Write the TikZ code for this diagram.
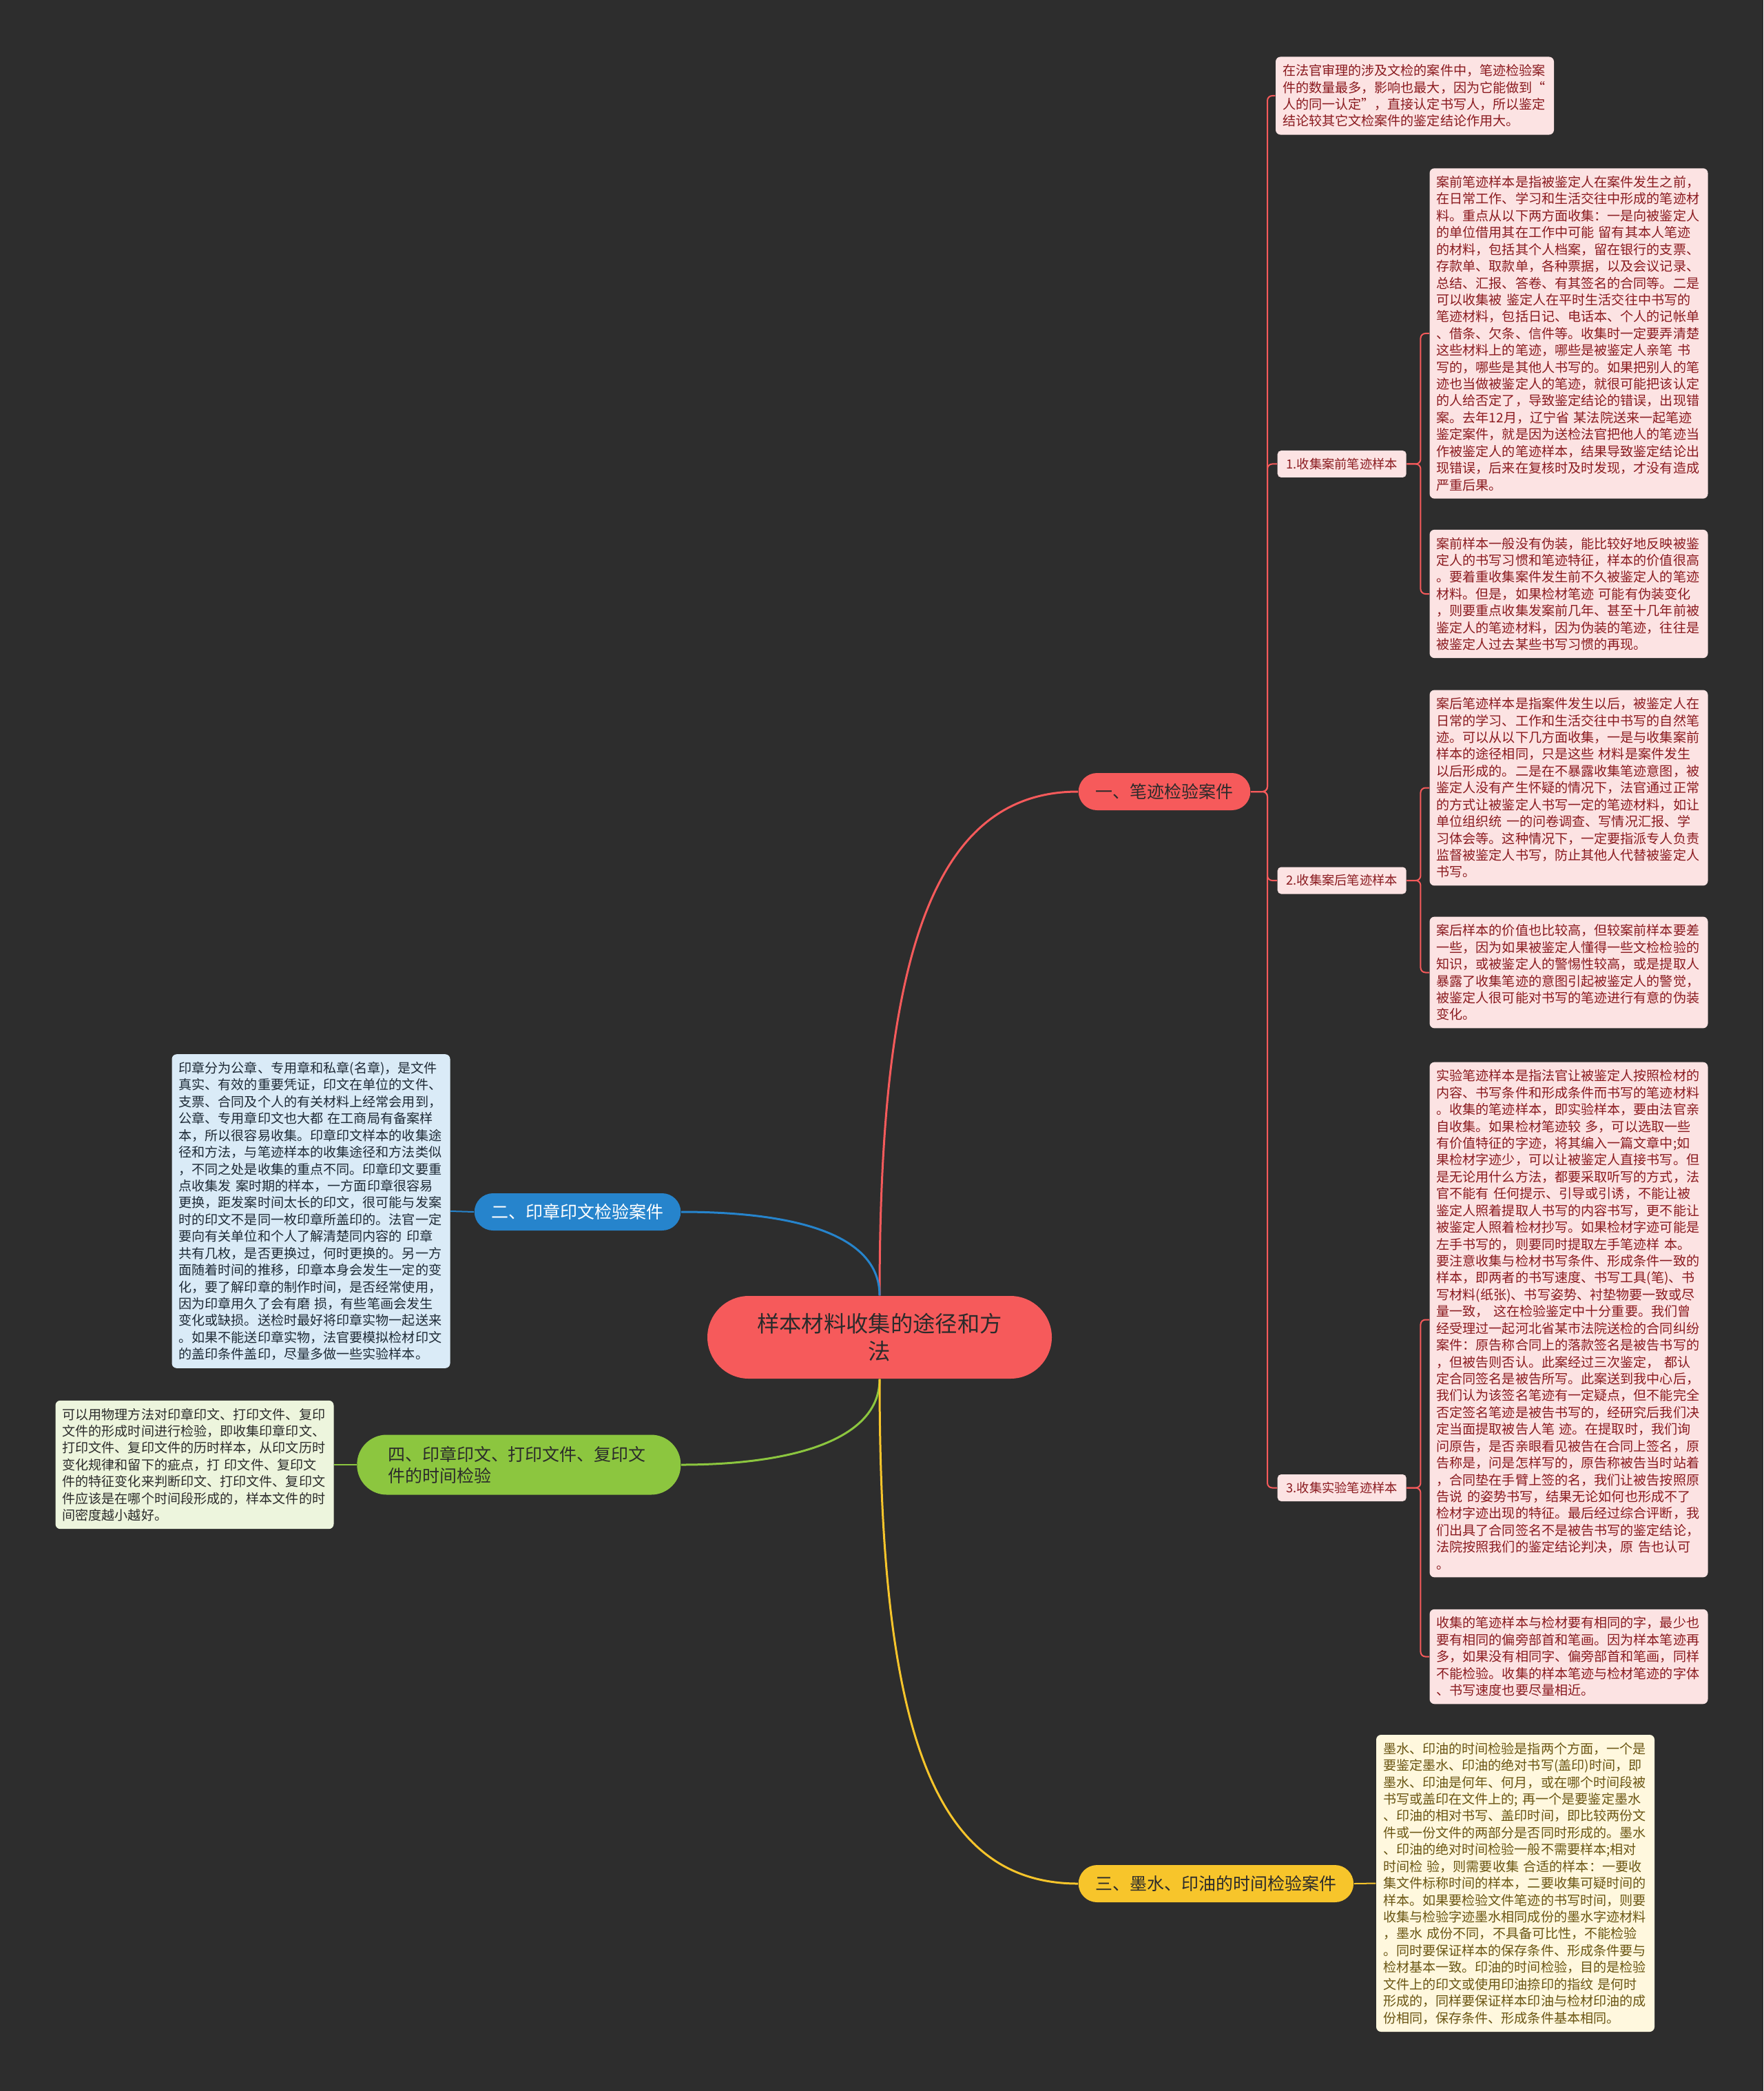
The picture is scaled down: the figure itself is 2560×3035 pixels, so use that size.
\documentclass[tikz,border=0pt]{standalone}
\usepackage{fontspec}
\setmainfont{Noto Sans CJK SC}
\usepackage{tikz}
\usetikzlibrary{calc}

\definecolor{bgdark}{HTML}{2D2D2D}
\definecolor{mapred}{HTML}{F65A5B}
\definecolor{leafpink}{HTML}{FCE3E3}
\definecolor{leafred}{HTML}{8A1A1F}
\definecolor{mapblue}{HTML}{2684CC}
\definecolor{leafblue}{HTML}{DAEBF7}
\definecolor{bluetext}{HTML}{1E2A36}
\definecolor{mapgreen}{HTML}{8CC63F}
\definecolor{leafgreen}{HTML}{EDF5DD}
\definecolor{mapyellow}{HTML}{F7C52B}
\definecolor{leafcream}{HTML}{FFF8DE}
\definecolor{leafolive}{HTML}{6A5512}
\definecolor{darktext}{HTML}{2B2B2B}

\begin{document}
\begin{tikzpicture}[x=0.1mm, y=-0.1mm,
  leaf/.style={rounded corners=2pt, align=left, text width=38.4mm, inner xsep=1mm, inner ysep=1.1mm,
    font=\fontsize{5.43}{6.95}\selectfont},
  sublabel/.style={rounded corners=1.5pt, fill=leafpink, text=leafred, inner xsep=0.8mm, inner ysep=0pt,
    minimum height=3.9mm, minimum width=18.7mm, font=\fontsize{5.2}{6}\selectfont},
  topic/.style={rounded corners=2.7mm, minimum height=5.4mm, inner xsep=2.5mm, inner ysep=0pt,
    font=\fontsize{7.1}{8.8}\selectfont},
  link/.style={line width=0.3mm},
  twig/.style={line width=0.2mm, rounded corners=2pt}]
  % fond
  \fill[bgdark] (0,0) rectangle (2560,3035);
  \useasboundingbox (0,0) rectangle (2560,3035);
  % thème central
  \node[fill=mapred, text=darktext, rounded corners=6mm, minimum width=50mm, minimum height=12mm,
    align=center, font=\fontsize{9.2}{11.5}\selectfont] (root) at (1277,1941)
    {样本材料收集的途径和方\\法};
  % branches
  \node[topic, fill=mapred, text=darktext, anchor=west] (b1) at (1565,1149) {一、笔迹检验案件};
  \node[topic, fill=mapblue, text=white, anchor=east] (b2) at (989,1759) {二、印章印文检验案件};
  \node[topic, fill=mapyellow, text=darktext, anchor=west] (b3) at (1565,2734) {三、墨水、印油的时间检验案件};
  \node[topic, fill=mapgreen, text=darktext, anchor=east, rounded corners=4.3mm, minimum height=8.7mm,
    align=left, text width=38mm, inner xsep=4.5mm] (b4) at (989,2126)
    {四、印章印文、打印文件、复印文\\件的时间检验};
  % sous-thèmes
  \node[sublabel, anchor=west] (sa) at (1854,673.5) {1.收集案前笔迹样本};
  \node[sublabel, anchor=west] (sb) at (1854,1278) {2.收集案后笔迹样本};
  \node[sublabel, anchor=west] (sc) at (1854,2159.5) {3.收集实验笔迹样本};
  % notes : branche 1
  \node[leaf, fill=leafpink, text=leafred] (n0) at (2054,139) {%
在法官审理的涉及文检的案件中，笔迹检验案\\
件的数量最多，影响也最大，因为它能做到“\\
人的同一认定”，直接认定书写人，所以鉴定\\
结论较其它文检案件的鉴定结论作用大。};
  \node[leaf, fill=leafpink, text=leafred] (na1) at (2277.5,484) {%
案前笔迹样本是指被鉴定人在案件发生之前，\\
在日常工作、学习和生活交往中形成的笔迹材\\
料。重点从以下两方面收集：一是向被鉴定人\\
的单位借用其在工作中可能 留有其本人笔迹\\
的材料，包括其个人档案，留在银行的支票、\\
存款单、取款单，各种票据，以及会议记录、\\
总结、汇报、答卷、有其签名的合同等。二是\\
可以收集被 鉴定人在平时生活交往中书写的\\
笔迹材料，包括日记、电话本、个人的记帐单\\
、借条、欠条、信件等。收集时一定要弄清楚\\
这些材料上的笔迹，哪些是被鉴定人亲笔 书\\
写的，哪些是其他人书写的。如果把别人的笔\\
迹也当做被鉴定人的笔迹，就很可能把该认定\\
的人给否定了，导致鉴定结论的错误，出现错\\
案。去年12月，辽宁省 某法院送来一起笔迹\\
鉴定案件，就是因为送检法官把他人的笔迹当\\
作被鉴定人的笔迹样本，结果导致鉴定结论出\\
现错误，后来在复核时及时发现，才没有造成\\
严重后果。};
  \node[leaf, fill=leafpink, text=leafred] (na2) at (2277.5,862) {%
案前样本一般没有伪装，能比较好地反映被鉴\\
定人的书写习惯和笔迹特征，样本的价值很高\\
。要着重收集案件发生前不久被鉴定人的笔迹\\
材料。但是，如果检材笔迹 可能有伪装变化\\
，则要重点收集发案前几年、甚至十几年前被\\
鉴定人的笔迹材料，因为伪装的笔迹，往往是\\
被鉴定人过去某些书写习惯的再现。};
  \node[leaf, fill=leafpink, text=leafred] (nb1) at (2277.5,1143.5) {%
案后笔迹样本是指案件发生以后，被鉴定人在\\
日常的学习、工作和生活交往中书写的自然笔\\
迹。可以从以下几方面收集，一是与收集案前\\
样本的途径相同，只是这些 材料是案件发生\\
以后形成的。二是在不暴露收集笔迹意图，被\\
鉴定人没有产生怀疑的情况下，法官通过正常\\
的方式让被鉴定人书写一定的笔迹材料，如让\\
单位组织统 一的问卷调查、写情况汇报、学\\
习体会等。这种情况下，一定要指派专人负责\\
监督被鉴定人书写，防止其他人代替被鉴定人\\
书写。};
  \node[leaf, fill=leafpink, text=leafred] (nb2) at (2277.5,1411.5) {%
案后样本的价值也比较高，但较案前样本要差\\
一些，因为如果被鉴定人懂得一些文检检验的\\
知识，或被鉴定人的警惕性较高，或是提取人\\
暴露了收集笔迹的意图引起被鉴定人的警觉，\\
被鉴定人很可能对书写的笔迹进行有意的伪装\\
变化。};
  \node[leaf, fill=leafpink, text=leafred] (nc1) at (2277.5,1915.5) {%
实验笔迹样本是指法官让被鉴定人按照检材的\\
内容、书写条件和形成条件而书写的笔迹材料\\
。收集的笔迹样本，即实验样本，要由法官亲\\
自收集。如果检材笔迹较 多，可以选取一些\\
有价值特征的字迹，将其编入一篇文章中;如\\
果检材字迹少，可以让被鉴定人直接书写。但\\
是无论用什么方法，都要采取听写的方式，法\\
官不能有 任何提示、引导或引诱，不能让被\\
鉴定人照着提取人书写的内容书写，更不能让\\
被鉴定人照着检材抄写。如果检材字迹可能是\\
左手书写的，则要同时提取左手笔迹样 本。\\
要注意收集与检材书写条件、形成条件一致的\\
样本，即两者的书写速度、书写工具(笔)、书\\
写材料(纸张)、书写姿势、衬垫物要一致或尽\\
量一致， 这在检验鉴定中十分重要。我们曾\\
经受理过一起河北省某市法院送检的合同纠纷\\
案件：原告称合同上的落款签名是被告书写的\\
，但被告则否认。此案经过三次鉴定， 都认\\
定合同签名是被告所写。此案送到我中心后，\\
我们认为该签名笔迹有一定疑点，但不能完全\\
否定签名笔迹是被告书写的，经研究后我们决\\
定当面提取被告人笔 迹。在提取时，我们询\\
问原告，是否亲眼看见被告在合同上签名，原\\
告称是，问是怎样写的，原告称被告当时站着\\
，合同垫在手臂上签的名，我们让被告按照原\\
告说 的姿势书写，结果无论如何也形成不了\\
检材字迹出现的特征。最后经过综合评断，我\\
们出具了合同签名不是被告书写的鉴定结论，\\
法院按照我们的鉴定结论判决，原 告也认可\\
。};
  \node[leaf, fill=leafpink, text=leafred] (nc2) at (2277.5,2404.5) {%
收集的笔迹样本与检材要有相同的字，最少也\\
要有相同的偏旁部首和笔画。因为样本笔迹再\\
多，如果没有相同字、偏旁部首和笔画，同样\\
不能检验。收集的样本笔迹与检材笔迹的字体\\
、书写速度也要尽量相近。};
  % notes : branche 3
  \node[leaf, fill=leafcream, text=leafolive] (nd) at (2200,2733.5) {%
墨水、印油的时间检验是指两个方面，一个是\\
要鉴定墨水、印油的绝对书写(盖印)时间，即\\
墨水、印油是何年、何月，或在哪个时间段被\\
书写或盖印在文件上的; 再一个是要鉴定墨水\\
、印油的相对书写、盖印时间，即比较两份文\\
件或一份文件的两部分是否同时形成的。墨水\\
、印油的绝对时间检验一般不需要样本;相对\\
时间检 验，则需要收集 合适的样本：一要收\\
集文件标称时间的样本，二要收集可疑时间的\\
样本。如果要检验文件笔迹的书写时间，则要\\
收集与检验字迹墨水相同成份的墨水字迹材料\\
，墨水 成份不同，不具备可比性，不能检验\\
。同时要保证样本的保存条件、形成条件要与\\
检材基本一致。印油的时间检验，目的是检验\\
文件上的印文或使用印油捺印的指纹 是何时\\
形成的，同样要保证样本印油与检材印油的成\\
份相同，保存条件、形成条件基本相同。};
  % notes : branche 2
  \node[leaf, fill=leafblue, text=bluetext] (ne) at (451.5,1758) {%
印章分为公章、专用章和私章(名章)，是文件\\
真实、有效的重要凭证，印文在单位的文件、\\
支票、合同及个人的有关材料上经常会用到，\\
公章、专用章印文也大都 在工商局有备案样\\
本，所以很容易收集。印章印文样本的收集途\\
径和方法，与笔迹样本的收集途径和方法类似\\
，不同之处是收集的重点不同。印章印文要重\\
点收集发 案时期的样本，一方面印章很容易\\
更换，距发案时间太长的印文，很可能与发案\\
时的印文不是同一枚印章所盖印的。法官一定\\
要向有关单位和个人了解清楚同内容的 印章\\
共有几枚，是否更换过，何时更换的。另一方\\
面随着时间的推移，印章本身会发生一定的变\\
化，要了解印章的制作时间，是否经常使用，\\
因为印章用久了会有磨 损，有些笔画会发生\\
变化或缺损。送检时最好将印章实物一起送来\\
。如果不能送印章实物，法官要模拟检材印文\\
的盖印条件盖印，尽量多做一些实验样本。};
  % notes : branche 4
  \node[leaf, fill=leafgreen, text=darktext] (nf) at (282.5,2126) {%
可以用物理方法对印章印文、打印文件、复印\\
文件的形成时间进行检验，即收集印章印文、\\
打印文件、复印文件的历时样本，从印文历时\\
变化规律和留下的疵点，打 印文件、复印文\\
件的特征变化来判断印文、打印文件、复印文\\
件应该是在哪个时间段形成的，样本文件的时\\
间密度越小越好。};
  % liens du centre
  \draw[link, mapred] (root.north) .. controls (1277,1400) and (1350,1149) .. (b1.west);
  \draw[link, mapblue] (root.north) .. controls (1277,1790) and (1150,1759) .. (b2.east);
  \draw[link, mapgreen] (root.south) .. controls (1277,2090) and (1150,2126) .. (b4.east);
  \draw[link, mapyellow] (root.south) .. controls (1277,2500) and (1350,2734) .. (b3.west);
  % liens branche 1
  \coordinate (k1) at (1840,1149);
  \draw[twig, mapred] (b1.east) -- (k1) |- (n0.west);
  \draw[twig, mapred] (b1.east) -- (k1) |- (sa.west);
  \draw[twig, mapred] (b1.east) -- (k1) |- (sb.west);
  \draw[twig, mapred] (b1.east) -- (k1) |- (sc.west);
  \draw[twig, mapred] (sa.east) -- ++(20,0) |- (na1.west);
  \draw[twig, mapred] (sa.east) -- ++(20,0) |- (na2.west);
  \draw[twig, mapred] (sb.east) -- ++(20,0) |- (nb1.west);
  \draw[twig, mapred] (sb.east) -- ++(20,0) |- (nb2.west);
  \draw[twig, mapred] (sc.east) -- ++(20,0) |- (nc1.west);
  \draw[twig, mapred] (sc.east) -- ++(20,0) |- (nc2.west);
  % liens des autres branches
  \draw[twig, mapyellow] (b3.east) -- (nd.west);
  \draw[twig, mapblue] (b2.west) -- (ne.east);
  \draw[twig, mapgreen] (b4.west) -- (nf.east);
\end{tikzpicture}
\end{document}
